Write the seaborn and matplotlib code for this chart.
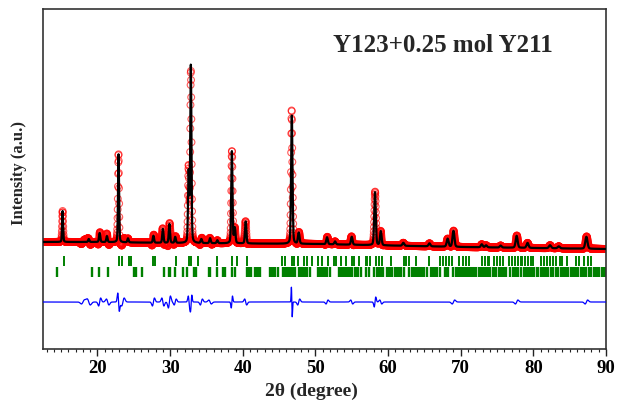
import numpy as np
import pandas as pd
import matplotlib
matplotlib.use("Agg")
import matplotlib.pyplot as plt
import seaborn as sns

# ---------------- data ----------------
# background level (axes pixel units above the bottom frame)
bg_pos = [12.5, 20.0, 30.0, 40.0, 50.0, 60.0, 70.0, 80.0, 90.0]
bg_val = [107.0, 107.0, 106.0, 105.5, 105.0, 103.5, 102.0, 101.0, 100.0]

# peaks: position (deg), height above background, FWHM (deg)
peak_pos = [15.2, 18.8, 20.3, 21.3, 22.9, 24.2, 27.7, 29.0, 29.9, 30.7,
            32.55, 32.85, 34.3, 35.5, 36.5, 38.5, 38.9, 40.4, 46.75, 47.7,
            51.6, 52.7, 55.0, 58.2, 59.0, 62.1, 65.7, 68.2, 69.0, 72.9,
            73.5, 75.5, 77.7, 79.2, 82.3, 83.5, 87.3]
peak_h = [31, 3, 9, 6, 88, 4, 7, 14, 19, 6,
          70, 178, 4, 5, 3, 92, 15, 22, 129, 11,
          7, 3, 8, 53, 14, 3, 3, 8, 16, 3,
          2, 2, 12, 5, 3, 2, 12]
peak_w = [0.16, 0.2, 0.2, 0.2, 0.17, 0.2, 0.2, 0.2, 0.2, 0.2,
          0.2, 0.19, 0.22, 0.22, 0.22, 0.2, 0.22, 0.22, 0.22, 0.25,
          0.25, 0.25, 0.25, 0.25, 0.25, 0.3, 0.3, 0.3, 0.3, 0.3,
          0.3, 0.3, 0.32, 0.32, 0.35, 0.35, 0.35]

# difference-curve features: position, amplitude, width
diff_pos = [18.0, 18.8, 20.3, 21.4, 22.9, 23.5, 27.7, 29.0, 29.9, 30.7,
            32.6, 32.9, 34.3, 35.5, 38.5, 40.4, 46.75, 47.7, 51.6, 55.0,
            58.2, 59.0, 69.0, 77.7, 87.3]
diff_amp = [2, -3, 4, -3, -9, 4, 4, -4, 6, 3,
            -6, 7, 3, -2, 6, -3, -15, 3, 2, -2,
            5, -2, 2, 2, 2]
diff_w = [0.3, 0.3, 0.2, 0.25, 0.15, 0.25, 0.2, 0.2, 0.2, 0.2,
          0.15, 0.12, 0.2, 0.25, 0.12, 0.2, 0.08, 0.2, 0.2, 0.2,
          0.15, 0.2, 0.25, 0.25, 0.25]
diff_level = 47.0

# Bragg reflection positions
ybco_ticks = [15.35, 22.97, 23.38, 24.35, 24.67, 27.65, 27.97, 30.77, 32.6, 32.9,
              33.9, 36.4, 38.5, 39.2, 40.55, 45.4, 45.8, 46.75, 47.0, 47.6,
              48.4, 48.8, 49.5, 50.3, 50.9, 51.7, 52.5, 52.8, 53.5, 54.15,
              55.1, 55.3, 56.0, 56.9, 57.1, 57.5, 58.3, 58.7, 59.2, 60.35,
              62.2, 62.5, 62.9, 63.8, 65.6, 67.2, 67.6, 68.0, 68.4, 68.8,
              69.8, 70.3, 70.7, 71.1, 72.9, 73.3, 73.7, 73.9, 74.6, 75.0,
              75.4, 75.8, 76.7, 77.1, 77.5, 77.9, 78.3, 78.5, 78.9, 79.3,
              79.7, 80.0, 81.1, 81.4, 81.9, 82.3, 82.7, 83.1, 83.6, 84.0,
              84.7, 85.9, 86.3, 87.0, 87.5, 87.9]
y211_ticks = [14.43, 19.25, 20.2, 21.45, 25.0, 25.3, 26.1, 29.1, 29.8, 30.0,
              30.7, 31.8, 32.3, 33.35, 33.6, 35.3, 35.5, 36.4, 37.3, 37.5,
              38.5, 38.95, 40.55, 40.75, 40.95, 41.2, 41.7, 41.9, 42.1, 42.4,
              43.8, 44.0, 44.2, 44.5, 44.9, 45.6, 45.8, 46.0, 46.25, 46.5,
              46.7, 46.9, 47.2, 47.7, 47.9, 48.1, 48.3, 48.5, 48.8, 49.3,
              50.4, 50.6, 50.8, 51.0, 51.2, 51.4, 51.6, 52.0, 53.2, 53.4,
              53.6, 53.8, 54.0, 54.2, 54.4, 54.6, 54.8, 55.1, 55.5, 55.7,
              55.9, 56.3, 56.9, 57.4, 58.0, 58.5, 58.7, 58.9, 59.1, 59.3,
              59.8, 60.0, 60.2, 60.6, 61.0, 61.2, 61.4, 61.6, 61.8, 62.2,
              62.9, 63.3, 63.5, 63.7, 63.9, 64.1, 64.3, 64.5, 64.7, 64.9,
              65.3, 65.9, 66.1, 66.3, 66.5, 66.7, 67.1, 67.9, 68.1, 68.3,
              68.9, 69.3, 69.5, 69.7, 69.9, 70.1, 70.3, 70.5, 70.7, 70.9,
              71.1, 71.35, 71.6, 71.85, 72.1, 72.5, 72.75, 73.0, 73.25, 73.5,
              73.75, 74.0, 74.4, 74.65, 74.9, 75.3, 75.55, 75.8, 76.05, 76.3,
              76.8, 77.2, 77.45, 77.7, 77.9, 78.3, 78.7, 78.95, 79.2, 79.45,
              79.7, 79.95, 80.15, 80.5, 80.6, 81.0, 81.25, 81.5, 81.75, 82.0,
              82.4, 82.65, 83.1, 83.35, 83.8, 84.05, 84.3, 84.55, 84.8, 85.2,
              85.45, 85.7, 85.95, 86.2, 86.6, 86.85, 87.1, 87.3, 87.7, 87.95,
              88.4, 88.65, 88.9, 89.1, 89.5, 89.75, 89.95]

title_text = "Y123+0.25 mol Y211"
xlabel_text = "2\u03b8 (degree)"
ylabel_text = "Intensity (a.u.)"
xticks = [20, 30, 40, 50, 60, 70, 80, 90]

# ---------------- profile construction ----------------
tt = np.arange(12.5, 90.0001, 0.02)
bg = np.interp(tt, bg_pos, bg_val)
calc = bg.copy()
for p, h, w in zip(peak_pos, peak_h, peak_w):
    s = (tt - p) / (w / 2.0)
    gauss = np.exp(-np.log(2) * s ** 2)
    lor = 1.0 / (1.0 + s ** 2)
    calc += h * (0.75 * gauss + 0.25 * lor)
diff = np.zeros_like(tt)
for p, a, w in zip(diff_pos, diff_amp, diff_w):
    s = (tt - p) / w
    diff += a * 2.33 * s * np.exp(-s ** 2)
obs = calc + diff

df = pd.DataFrame({"tt": tt, "obs": obs, "calc": calc, "diff": diff + diff_level})

# ---------------- plotting ----------------
sns.set_style("white")
plt.rcParams["font.family"] = ["Liberation Serif", "DejaVu Serif"]
plt.rcParams["font.weight"] = "bold"

fig = plt.figure(figsize=(6.18, 4.02), dpi=100)
ax = fig.add_axes([43 / 618, 52 / 402, 563 / 618, 340 / 402])

sns.scatterplot(data=df, x="tt", y="obs", ax=ax, marker="o", s=24,
                facecolor="none", edgecolor="#ff0000", linewidth=0.8,
                alpha=0.65, zorder=2, legend=False)
sns.lineplot(data=df, x="tt", y="calc", ax=ax, color="black", linewidth=1.6,
             zorder=3, estimator=None, sort=False)
sns.lineplot(data=df, x="tt", y="diff", ax=ax, color="#0000ff", linewidth=0.9,
             zorder=3, estimator=None, sort=False)

ax.vlines(ybco_ticks, 83.5, 93.5, color="#008000", linewidth=1.4, zorder=2)
ax.vlines(y211_ticks, 72.0, 82.0, color="#008000", linewidth=1.7, zorder=2)

ax.set_xlim(12.5, 90)
ax.set_ylim(0, 340)
ax.set_yticks([])
ax.set_xticks(xticks)
ax.set_xticks(np.arange(13, 91, 1), minor=True)
ax.tick_params(axis="x", which="major", direction="out", length=5, width=1.0,
               labelsize=13.5, pad=2.5, bottom=True, colors="#222222")
ax.tick_params(axis="x", which="minor", direction="out", length=2.5, width=0.8,
               bottom=True, colors="#222222")
for lab in ax.get_xticklabels():
    lab.set_fontweight("bold")
    lab.set_color("black")
for sp in ax.spines.values():
    sp.set_visible(True)
    sp.set_color("#333333")
    sp.set_linewidth(1.2)

ax.set_xlabel(xlabel_text, fontsize=14, fontweight="bold")
ax.xaxis.set_label_coords((311 - 43) / 563, -0.095)
ax.set_ylabel(ylabel_text, fontsize=12, fontweight="bold")
ax.yaxis.set_label_coords(-16 / 563, 0.52)

ax.text((333 - 43) / 563, (350 - 45) / 340, title_text, transform=ax.transAxes,
        fontsize=18, fontweight="bold", ha="left", va="center")

fig.savefig("out.png", dpi=100)
